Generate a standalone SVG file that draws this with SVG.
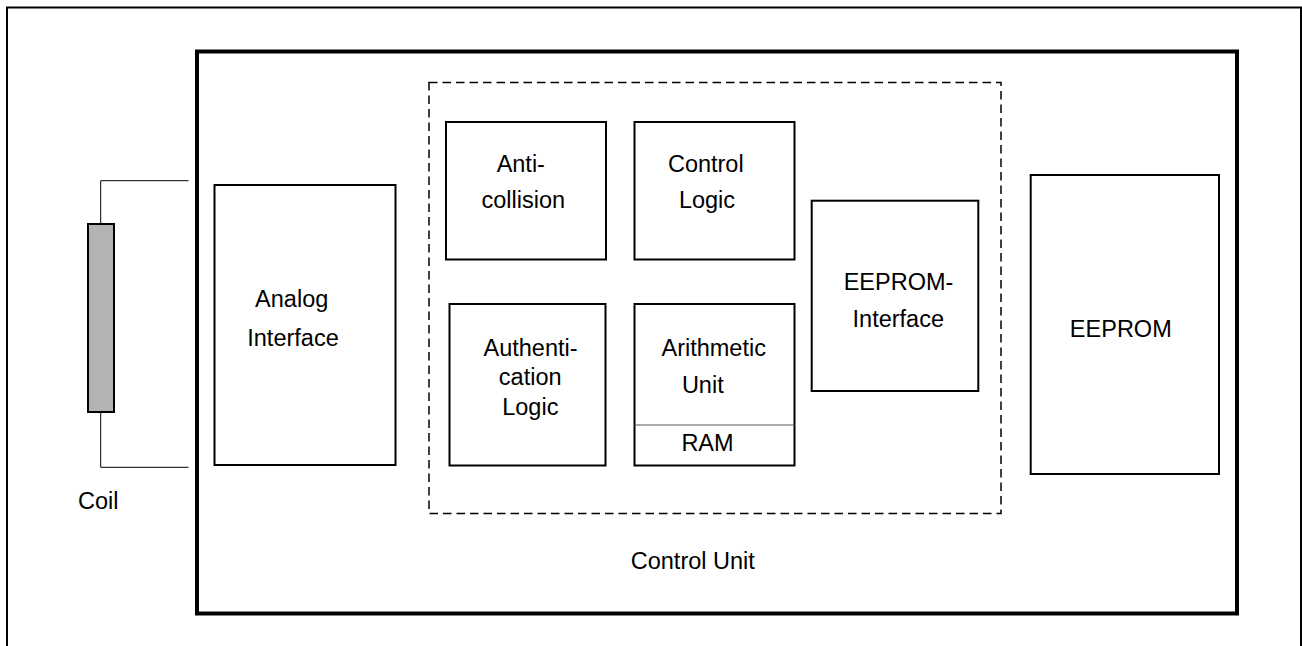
<svg xmlns="http://www.w3.org/2000/svg" width="1302" height="646" viewBox="0 0 1302 646">
<style>
text{font-family:"Liberation Sans",Arial,sans-serif;font-size:23.5px;fill:#000;text-anchor:middle}
.box{fill:#fff;stroke:#000;stroke-width:2}
</style>
<rect x="0" y="0" width="1302" height="646" fill="#fff"/>
<rect id="frame" x="7" y="7.5" width="1294" height="660" fill="none" stroke="#000" stroke-width="2"/>
<g id="chip"><rect x="197" y="51.5" width="1040" height="562" fill="none" stroke="#000" stroke-width="4"/><text x="692.8" y="569.3">Control Unit</text></g>
<g id="control-unit"><rect x="429" y="82.5" width="572" height="431" fill="none" stroke="#000" stroke-width="1.5" stroke-dasharray="8.5,5"/></g>
<g id="connectors">
<polyline points="188.5,180.7 100.7,180.7 100.7,224" fill="none" stroke="#000" stroke-width="1"/>
<polyline points="188.5,467.3 100.7,467.3 100.7,412" fill="none" stroke="#000" stroke-width="1"/>
</g>
<g id="coil"><rect x="88" y="224" width="26" height="188" fill="#b3b3b3" stroke="#000" stroke-width="2"/><text x="98.3" y="509.3">Coil</text></g>
<g id="analog-interface"><rect class="box" x="214.5" y="185" width="181" height="280"/><text x="291.7" y="306.7">Analog</text><text x="293" y="346">Interface</text></g>
<g id="anti-collision"><rect class="box" x="446" y="122" width="160" height="137.5"/><text x="520.8" y="171.7">Anti-</text><text x="523.3" y="207.7">collision</text></g>
<g id="control-logic"><rect class="box" x="634.5" y="122" width="160" height="137.5"/><text x="705.8" y="171.7">Control</text><text x="707" y="207.7">Logic</text></g>
<g id="authentication-logic"><rect class="box" x="449.5" y="304" width="156" height="161.5"/><text x="530.5" y="356">Authenti-</text><text x="530.2" y="385.3">cation</text><text x="530.3" y="414.7">Logic</text></g>
<g id="arithmetic-unit"><rect class="box" x="634.5" y="304" width="160" height="161.5"/><line x1="634.5" y1="425" x2="794.5" y2="425" stroke="#555" stroke-width="1"/><text x="713.7" y="356">Arithmetic</text><text x="702.8" y="392.7">Unit</text><text x="707.5" y="450.7">RAM</text></g>
<g id="eeprom-interface"><rect class="box" x="811.7" y="200.7" width="166.6" height="190.3"/><text x="898.5" y="290">EEPROM-</text><text x="898.3" y="326.7">Interface</text></g>
<g id="eeprom"><rect class="box" x="1030.7" y="175" width="188.3" height="299"/><text x="1120.8" y="336.7">EEPROM</text></g>
</svg>
